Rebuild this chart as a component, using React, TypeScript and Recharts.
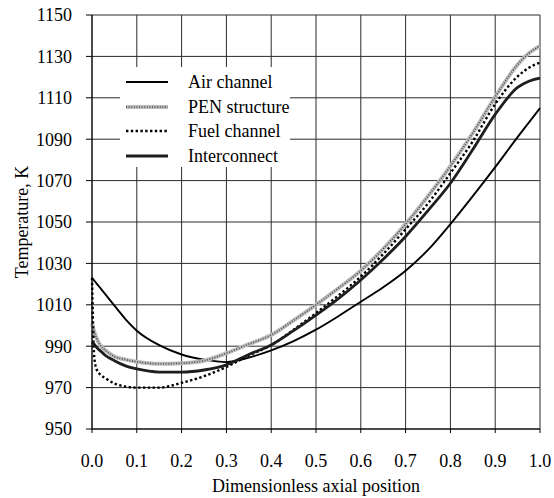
import { LineChart, Line, XAxis, YAxis, CartesianGrid, Legend, Label } from 'recharts';

const FONT = '"Liberation Serif", "Times New Roman", serif';

// axial positions (dimensionless)
const POSITIONS = [0, 0.005, 0.01, 0.02, 0.03, 0.05, 0.075, 0.1, 0.15, 0.2, 0.25, 0.3, 0.35, 0.4, 0.45, 0.5, 0.55, 0.6, 0.65, 0.7, 0.75, 0.8, 0.85, 0.9, 0.95, 0.975, 1.0];

// temperatures, K
const AIR = [1023, 1021.7, 1020.4, 1017.7, 1015, 1009.6, 1003, 997.5, 990.5, 986, 983.5, 982.3, 984.5, 988, 992.5, 998, 1004.5, 1011.5, 1018.5, 1026.5, 1036.5, 1049, 1062.5, 1076.5, 1091, 1098, 1105];
const PEN = [1001, 997, 994, 990, 988, 985, 983.5, 982.5, 981.5, 981.8, 983, 986.6, 991, 995.4, 1002.5, 1010, 1018, 1026.5, 1037, 1049, 1062.5, 1077, 1093, 1110.5, 1126, 1131.5, 1135];
const FUEL = [1023, 985, 979, 976, 974.5, 972, 970.5, 970, 970, 972.3, 975.5, 980, 985.5, 990.5, 998, 1006, 1014.5, 1023.6, 1034.5, 1046.5, 1059, 1073.6, 1089, 1107, 1120.3, 1124.5, 1127];
const INTERCONNECT = [992, 991, 989.5, 987.5, 985.5, 983, 980.5, 979, 977.5, 977.5, 978.5, 981, 986, 990.6, 997.5, 1005, 1013, 1022, 1032, 1043, 1055.5, 1068.7, 1085, 1102, 1115, 1118, 1119.5];

const X_TICKS = [0, 0.1, 0.2, 0.3, 0.4, 0.5, 0.6, 0.7, 0.8, 0.9, 1.0];
const Y_TICKS = [950, 970, 990, 1010, 1030, 1050, 1070, 1090, 1110, 1130, 1150];

// each series may have a second stroke drawn on top (for the hatched PEN look)
const SERIES = [
  { key: 'air', name: 'Air channel', stroke: '#000', width: 1.9, dash: undefined, over: null },
  { key: 'pen', name: 'PEN structure', stroke: '#bdbdbd', width: 4, dash: undefined, over: { stroke: '#4a4a4a', width: 1.6, dash: '1 1.6' } },
  { key: 'fuel', name: 'Fuel channel', stroke: '#000', width: 2.4, dash: '2.4 2.4', over: null },
  { key: 'inter', name: 'Interconnect', stroke: '#1e1e1e', width: 2.8, dash: undefined, over: null },
];

const data = POSITIONS.map((x, i) => ({
  x,
  air: AIR[i],
  pen: PEN[i],
  fuel: FUEL[i],
  inter: INTERCONNECT[i],
}));

const tickStyle = { fontFamily: FONT, fontSize: 18, fill: '#000' };

const renderLegend = () => (
  <div style={{ background: '#fff', width: 170, height: 100, position: 'relative', fontFamily: FONT, fontSize: 18, color: '#000' }}>
    {SERIES.map((s, i) => (
      <div key={s.key} style={{ position: 'absolute', left: 0, top: 3 + i * 24.5, height: 24, display: 'flex', alignItems: 'center', whiteSpace: 'nowrap' }}>
        <svg width={50} height={24}>
          <line x1={6} x2={48} y1={12} y2={12} stroke={s.stroke} strokeWidth={s.width} strokeDasharray={s.dash} />
          {s.over && <line x1={6} x2={48} y1={12} y2={12} stroke={s.over.stroke} strokeWidth={s.over.width} strokeDasharray={s.over.dash} />}
        </svg>
        <span style={{ marginLeft: 18, lineHeight: '24px' }}>{s.name}</span>
      </div>
    ))}
  </div>
);

export default function App() {
  return (
    <div style={{ position: 'absolute', left: 0, top: 0, background: '#fff', fontFamily: FONT }}>
      <LineChart width={554} height={498} data={data} margin={{ top: 15, right: 14, left: 0, bottom: 0 }}>
        <CartesianGrid stroke="#2a2a2a" strokeWidth={1} />
        <XAxis
          dataKey="x"
          type="number"
          domain={[0, 1]}
          ticks={X_TICKS}
          tickFormatter={(v: number) => v.toFixed(1)}
          height={69}
          tickSize={4}
          tickMargin={21}
          stroke="#000"
          tick={tickStyle}
          interval={0}
        >
          <Label value="Dimensionless axial position" position="insideBottom" offset={6} style={{ fontFamily: FONT, fontSize: 18, fill: '#000' }} />
        </XAxis>
        <YAxis
          type="number"
          domain={[950, 1150]}
          ticks={Y_TICKS}
          width={92}
          tickSize={6}
          tickMargin={14}
          stroke="#000"
          tick={tickStyle}
          interval={0}
        >
          <Label value="Temperature, K" angle={-90} position="insideLeft" offset={22} style={{ fontFamily: FONT, fontSize: 18, fill: '#000', textAnchor: 'middle' }} />
        </YAxis>
        <Legend
          layout="horizontal"
          verticalAlign="middle"
          align="center"
          wrapperStyle={{ left: 120, top: 67, width: 170, height: 100 }}
          content={renderLegend}
        />
        {SERIES.map((s) => (
          <Line
            key={s.key}
            dataKey={s.key}
            name={s.name}
            type="monotone"
            stroke={s.stroke}
            strokeWidth={s.width}
            strokeDasharray={s.dash}
            dot={false}
            activeDot={false}
            isAnimationActive={false}
          />
        ))}
        {SERIES.filter((s) => s.over).map((s) => (
          <Line
            key={s.key + '-over'}
            dataKey={s.key}
            legendType="none"
            type="monotone"
            stroke={s.over!.stroke}
            strokeWidth={s.over!.width}
            strokeDasharray={s.over!.dash}
            dot={false}
            activeDot={false}
            isAnimationActive={false}
          />
        ))}
      </LineChart>
    </div>
  );
}
